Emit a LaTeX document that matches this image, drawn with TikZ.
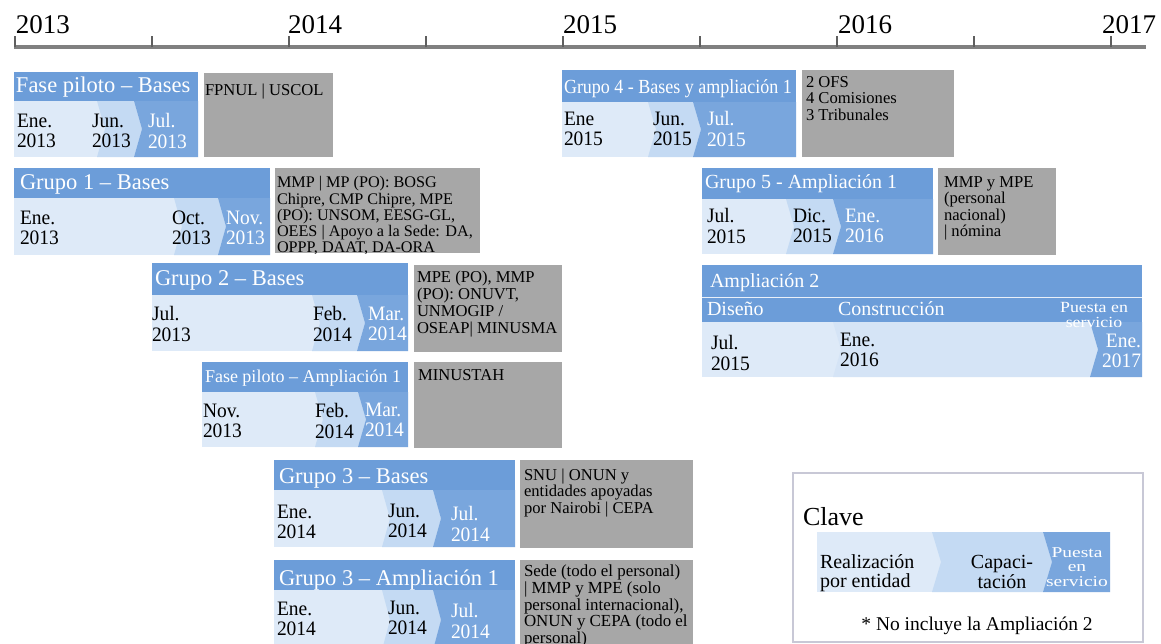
\documentclass[tikz,border=0pt]{standalone}
\usepackage{fontspec}
\setmainfont{Liberation Serif}
\newfontfamily\widefont[FakeStretch=1.3]{Liberation Serif}
\newfontfamily\wideafont[FakeStretch=1.15]{Liberation Serif}
\newfontfamily\narrowfont[FakeStretch=0.9]{Liberation Serif}
\newfontfamily\datefont[FakeStretch=0.95]{Liberation Serif}
\definecolor{cTitle}{RGB}{108,157,217}
\definecolor{cLight}{RGB}{222,234,248}
\definecolor{cLightB}{RGB}{213,228,246}
\definecolor{cMid}{RGB}{196,218,243}
\definecolor{cDark}{RGB}{121,166,221}
\definecolor{cGray}{RGB}{167,167,167}
\definecolor{cAxis}{RGB}{128,128,128}
\definecolor{cTick}{RGB}{95,95,95}
\definecolor{cKey}{RGB}{200,200,214}
\newcommand\tlbar[7]{%
 \fill[cTitle] (#1,#3) rectangle (#2,#4);
 \fill[cLight] (#1,#4) rectangle (#2,#5);
 \fill[cMid] (#6,#4) -- (#7,#4) -- ({#7+8},{(#4+#5)/2}) -- (#7,#5) -- (#6,#5) -- ({#6+8},{(#4+#5)/2}) -- cycle;
 \fill[cDark] (#7,#4) -- (#2,#4) -- (#2,#5) -- (#7,#5) -- ({#7+8},{(#4+#5)/2}) -- cycle;
}
\tikzset{
 txt/.style={inner sep=0pt, outer sep=0pt},
 yearlbl/.style={txt, anchor=base west, font=\fontsize{27}{28}\selectfont},
 gt/.style={txt, anchor=north west, align=left, font=\fontsize{16.6}{16.5}\selectfont, yshift=11.55pt},
 gtl/.style={txt, anchor=north west, align=left, font=\fontsize{16.9}{16.5}\selectfont, yshift=11.55pt},
 gtc/.style={txt, anchor=north west, align=left, font=\fontsize{16.2}{16}\selectfont, yshift=11.2pt},
 gtb/.style={txt, anchor=north west, align=left, font=\fontsize{16.6}{17}\selectfont, yshift=11.9pt},
 gone/.style={txt, anchor=base west, font=\fontsize{16.6}{16.5}\selectfont},
 dt/.style={txt, anchor=north west, align=left, font=\datefont\fontsize{20.5}{19}\selectfont, yshift=13.3pt},
 dtw/.style={dt, text=white},
 tt/.style={txt, anchor=base west, text=white, font=\fontsize{22.5}{24}\selectfont},
 ttm/.style={tt, font=\fontsize{20}{22}\selectfont},
 tts/.style={tt, font=\fontsize{18}{20}\selectfont},
 ttx/.style={tt, font=\narrowfont\fontsize{20}{22}\selectfont},
 graybox/.style={fill=cGray},
 tick/.style={draw=cTick, line width=1.3pt},
}
\begin{document}
\begin{tikzpicture}[x=1pt, y=-1pt]
\useasboundingbox (0,0) rectangle (1161,643);
\clip (0,0) rectangle (1161,643);
\fill[white] (0,0) rectangle (1161,643);

% axis
\coordinate (axL) at (14,47);
\coordinate (axR) at (1146,47);
\draw[cAxis, line width=3.5pt] (axL) -- (axR);
\foreach \tx in {15,152,289,426,563,700,837,974,1111}
  \draw[tick] (\tx,47) -- (\tx,36);
\node[yearlbl] (y2013) at (16,33) {2013};
\node[yearlbl] (y2014) at (288,33) {2014};
\node[yearlbl] (y2015) at (563,33) {2015};
\node[yearlbl] (y2016) at (838,33) {2016};
\node[yearlbl] (y2017) at (1102,33) {2017};

% ---- Fase piloto - Bases
\tlbar{14}{198}{72}{101}{157}{97}{134}
\node[tt] (t1) at (16,92) {Fase piloto – Bases};
\node[dt] (d1a) at (17,127) {\strut Ene.\\2013};
\node[dt] (d1b) at (92,127) {\strut Jun.\\2013};
\node[dtw] (d1c) at (148,127) {\strut Jul.\\2013};
\fill[graybox] (204,73) rectangle (333,157);
\node[gone] (g1) at (205,95) {FPNUL | USCOL};

% ---- Grupo 1
\tlbar{14}{270}{168}{198}{255}{174}{218}
\node[tt] (t2) at (20,189) {Grupo 1 – Bases};
\node[dt] (d2a) at (20,224) {\strut Ene.\\2013};
\node[dt] (d2b) at (172,224) {\strut Oct.\\2013};
\node[dtw] (d2c) at (226,224) {\strut Nov.\\2013};
\fill[graybox] (275,168) rectangle (480,253);
\begin{scope}
\clip (275,168) rectangle (480,253);
\node[gtc] (g2) at (277,187) {\strut MMP | MP (PO): BOSG\\Chipre, CMP Chipre, MPE\\(PO): UNSOM, EESG-GL,\\OEES | Apoyo a la Sede: DA,\\OPPP, DAAT, DA-ORA};
\end{scope}

% ---- Grupo 2
\tlbar{152}{408}{263}{295}{351}{312}{357}
\node[tt] (t3) at (155,285) {Grupo 2 – Bases};
\node[dt] (d3a) at (152,320) {\strut Jul.\\2013};
\node[dt] (d3b) at (313,320) {\strut Feb.\\2014};
\node[dtw] (d3c) at (368,320) {\strut Mar.\\2014};
\fill[graybox] (414,265) rectangle (562,352);
\node[gtb] (g3) at (417,282) {\strut MPE (PO), MMP\\(PO): ONUVT,\\UNMOGIP /\\OSEAP| MINUSMA};

% ---- Fase piloto - Ampliacion 1
\tlbar{202}{408}{362}{392}{447}{315}{358}
\node[tts] (t4) at (205,382) {Fase piloto – Ampliación 1};
\node[dt] (d4a) at (203,417) {\strut Nov.\\2013};
\node[dt] (d4b) at (315,417) {\strut Feb.\\2014};
\node[dtw] (d4c) at (365,416) {\strut Mar.\\2014};
\fill[graybox] (414,362) rectangle (562,448);
\node[gone] (g4) at (418,380) {MINUSTAH};

% ---- Grupo 3 - Bases
\tlbar{274}{515}{460}{490}{547}{382}{433}
\node[tt] (t5) at (279,483) {Grupo 3 – Bases};
\node[dt] (d5a) at (277,518) {\strut Ene.\\2014};
\node[dt] (d5b) at (388,517) {\strut Jun.\\2014};
\node[dtw] (d5c) at (451,520) {\strut Jul.\\2014};
\fill[graybox] (520,460) rectangle (693,548);
\node[gt] (g5) at (524,480) {\strut SNU | ONUN y\\entidades apoyadas\\por Nairobi | CEPA};

% ---- Grupo 3 - Ampliacion 1
\tlbar{274}{515}{560}{590}{650}{382}{433}
\node[tt] (t6) at (279,585) {Grupo 3 – Ampliación 1};
\node[dt] (d6a) at (277,615) {\strut Ene.\\2014};
\node[dt] (d6b) at (388,614) {\strut Jun.\\2014};
\node[dtw] (d6c) at (451,617) {\strut Jul.\\2014};
\fill[graybox] (520,560) rectangle (693,650);
\node[gtl] (g6) at (524,576) {\strut Sede (todo el personal)\\| MMP y MPE (solo\\personal internacional),\\ONUN y CEPA (todo el\\personal)};

% ---- Grupo 4
\tlbar{562}{796}{70}{102}{157}{648}{693}
\node[ttx] (t7) at (564,93) {Grupo 4 - Bases y ampliación 1};
\node[dt] (d7a) at (564,125) {\strut Ene\\2015};
\node[dt] (d7b) at (653,125) {\strut Jun.\\2015};
\node[dtw] (d7c) at (707,125) {\strut Jul.\\2015};
\fill[graybox] (802,70) rectangle (954,157);
\node[gt] (g7) at (806,87) {\strut 2 OFS\\4 Comisiones\\3 Tribunales};

% ---- Grupo 5
\tlbar{702}{933}{168}{199}{254}{786}{833}
\node[ttm] (t8) at (705,188) {Grupo 5 - Ampliación 1};
\node[dt] (d8a) at (707,222) {\strut Jul.\\2015};
\node[dt] (d8b) at (793,222) {\strut Dic.\\2015};
\node[dtw] (d8c) at (845,222) {\strut Ene.\\2016};
\fill[graybox] (938,168) rectangle (1056,255);
\node[gt] (g8) at (944,187) {\strut MMP y MPE\\(personal\\nacional)\\| nómina};

% ---- Ampliacion 2
\fill[cTitle] (702,265) rectangle (1142,322);
\draw[white!85!cTitle, line width=1.5pt] (702,297.5) -- (1142,297.5);
\fill[cLight] (702,322) rectangle (1142,377);
\fill[cLightB] (833,322) -- (1090,322) -- (1098,349.5) -- (1090,377) -- (833,377) -- (841,349.5) -- cycle;
\fill[cDark] (1090,322) -- (1142,322) -- (1142,377) -- (1090,377) -- (1098,349.5) -- cycle;
\node[ttm] (t9) at (710,287) {Ampliación 2};
\node[ttm] (s9a) at (707,315) {Diseño};
\node[ttm] (s9b) at (838,315) {Construcción};
\node[txt, anchor=north, align=center, text=white, font=\wideafont\fontsize{15.5}{14}\selectfont, yshift=9.8pt] (s9c) at (1094,312) {\strut Puesta en\\servicio};
\node[dt] (d9a) at (711,349) {\strut Jul.\\2015};
\node[dt] (d9b) at (840,346) {\strut Ene.\\2016};
\node[dtw, anchor=north east, align=right] (d9c) at (1141,347) {\strut Ene.\\2017};

% ---- Key
\draw[cKey, line width=2.5pt] (793,473) rectangle (1143,642);
\node[txt, anchor=base west, font=\fontsize{26}{28}\selectfont] (kclave) at (803,525) {Clave};
\fill[cLight] (817,532) rectangle (1110,592);
\fill[cMid] (932,532) -- (1043,532) -- (1052,562) -- (1043,592) -- (932,592) -- (941,562) -- cycle;
\fill[cDark] (1043,532) -- (1110,532) -- (1110,592) -- (1043,592) -- (1052,562) -- cycle;
\node[txt, anchor=north west, align=left, font=\fontsize{20}{17}\selectfont, yshift=11.9pt] (k1) at (820,566) {\strut Realización\\por entidad};
\node[txt, anchor=north, align=center, font=\fontsize{20}{17}\selectfont, yshift=11.9pt] (k2) at (1002,567) {\strut Capaci-\\tación};
\node[txt, anchor=north, align=center, text=white, font=\widefont\fontsize{15}{14.5}\selectfont, yshift=10.15pt] (k3) at (1077,557) {\strut Puesta\\en\\servicio};
\node[txt, anchor=base, font=\fontsize{19.5}{21}\selectfont] (knote) at (977,630) {* No incluye la Ampliación 2};
\end{tikzpicture}
\end{document}
